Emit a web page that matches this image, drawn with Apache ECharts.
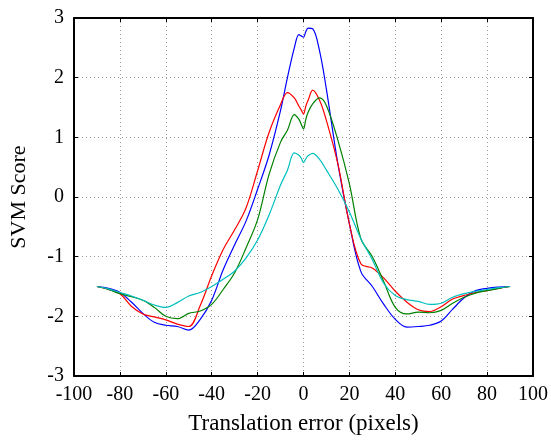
<!DOCTYPE html>
<html>
<head>
<meta charset="utf-8">
<script src="https://cdn.jsdelivr.net/npm/echarts@6/dist/echarts.min.js"></script>
<style>html,body{margin:0;padding:0;background:#fff;}#c{width:551px;height:440px;}</style>
</head>
<body>
<div id="c"></div>
<script>
const xs = [-90,-85,-80,-75,-70,-65,-60,-55,-50,-45,-40,-35,-30,-25,-20,-15,-10,-7,-4,-2,-1,0,1,2,4,7,10,15,20,25,30,35,40,45,50,55,60,65,70,75,80,85,90];
const blueVals = [-1.50,-1.53,-1.60,-1.76,-1.95,-2.10,-2.15,-2.17,-2.23,-2.05,-1.73,-1.22,-0.80,-0.40,0.13,0.70,1.45,2.00,2.50,2.72,2.70,2.68,2.77,2.83,2.82,2.45,1.80,0.55,-0.45,-1.25,-1.50,-1.80,-2.05,-2.18,-2.17,-2.15,-2.08,-1.88,-1.69,-1.57,-1.53,-1.51,-1.50];
const redVals = [-1.50,-1.55,-1.62,-1.83,-1.96,-2.01,-2.06,-2.13,-2.17,-1.82,-1.32,-0.88,-0.55,-0.18,0.44,1.08,1.55,1.75,1.66,1.52,1.46,1.39,1.52,1.62,1.79,1.62,1.28,0.55,-0.45,-1.12,-1.19,-1.36,-1.58,-1.76,-1.89,-1.92,-1.84,-1.71,-1.65,-1.60,-1.57,-1.53,-1.50];
const greenVals = [-1.50,-1.55,-1.62,-1.67,-1.73,-1.85,-2.00,-2.04,-1.95,-1.91,-1.80,-1.55,-1.27,-0.85,-0.38,0.38,0.92,1.12,1.38,1.30,1.22,1.14,1.30,1.42,1.56,1.66,1.53,0.95,0.22,-0.70,-1.00,-1.42,-1.85,-1.96,-1.93,-1.94,-1.90,-1.78,-1.68,-1.61,-1.57,-1.53,-1.50];
const cyanVals = [-1.50,-1.54,-1.60,-1.66,-1.73,-1.81,-1.85,-1.77,-1.66,-1.60,-1.50,-1.38,-1.24,-1.02,-0.72,-0.30,0.20,0.45,0.74,0.70,0.65,0.58,0.64,0.69,0.73,0.63,0.45,0.13,-0.25,-0.70,-1.05,-1.45,-1.65,-1.72,-1.75,-1.80,-1.78,-1.68,-1.62,-1.58,-1.55,-1.52,-1.50];
const seriesDefs = [
  {name:'blue', vals: blueVals, color:'#0000ff'},
  {name:'red', vals: redVals, color:'#ff0000'},
  {name:'green', vals: greenVals, color:'#008000'},
  {name:'cyan', vals: cyanVals, color:'#00bfbf'}
];
const xName = 'Translation error (pixels)';
const yName = 'SVM Score';
const FONT = "'Liberation Serif','Times New Roman',serif";

const chart = echarts.init(document.getElementById('c'), null, {renderer:'canvas'});
const axisCommon = {
  axisLine:{show:true, onZero:false, lineStyle:{color:'#000', width:2}},
  axisTick:{show:true, inside:true, length:4, lineStyle:{color:'#000', width:1}},
};
chart.setOption({
  animation:false,
  backgroundColor:'#fff',
  grid:{left:72, right:17, top:18, bottom:58, containLabel:false},
  xAxis:[
    Object.assign({
      type:'value', min:-100, max:100, interval:20, position:'bottom',
      name:xName, nameLocation:'middle', nameGap:36,
      nameTextStyle:{fontFamily:FONT, fontSize:23, color:'#000'},
      axisLabel:{fontFamily:FONT, fontSize:20, color:'#000', margin:9},
      splitLine:{show:true, lineStyle:{color:'#999', type:[1,3], width:1}}
    }, axisCommon),
    Object.assign({
      type:'value', min:-100, max:100, interval:20, position:'top',
      axisLabel:{show:false}, splitLine:{show:false}
    }, axisCommon)
  ],
  yAxis:[
    Object.assign({
      type:'value', min:-3, max:3, interval:1, position:'left',
      name:yName, nameLocation:'middle', nameGap:44,
      nameTextStyle:{fontFamily:FONT, fontSize:22, color:'#000'},
      axisLabel:{fontFamily:FONT, fontSize:20, color:'#000', margin:10},
      splitLine:{show:true, lineStyle:{color:'#999', type:[1,3], width:1}}
    }, axisCommon),
    Object.assign({
      type:'value', min:-3, max:3, interval:1, position:'right',
      axisLabel:{show:false}, splitLine:{show:false}
    }, axisCommon)
  ],
  series: seriesDefs.map(s => ({
    name:s.name, type:'line', xAxisIndex:0, yAxisIndex:0,
    data: xs.map((x,i)=>[x, s.vals[i]]),
    smooth:0.35, showSymbol:false, symbol:'none',
    lineStyle:{color:s.color, width:1.2}, itemStyle:{color:s.color}
  }))
});
</script>
</body>
</html>
